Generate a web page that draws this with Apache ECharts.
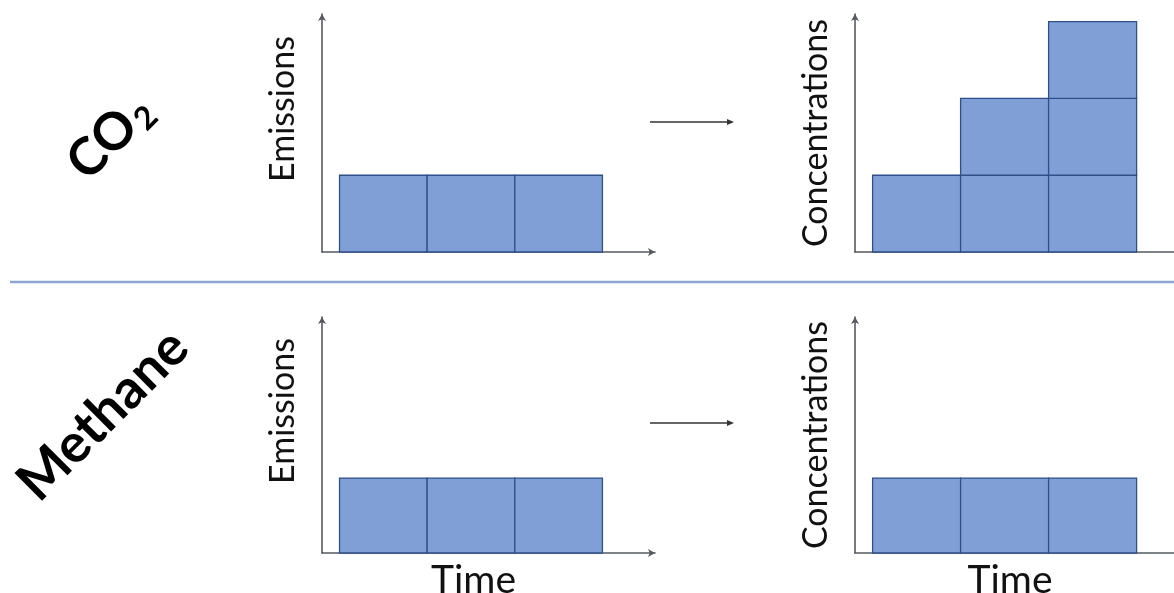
<!DOCTYPE html>
<html>
<head>
<meta charset="utf-8">
<script src="https://cdn.jsdelivr.net/npm/echarts@6/dist/echarts.min.js"></script>
<style>
html,body{margin:0;padding:0;background:#fff;}
#chart{width:1174px;height:593px;}
</style>
</head>
<body>
<div id="chart"></div>
<script>
// Data: each block = [time slot index, stack bottom, stack top]
const timeSlots = ['t1', 't2', 't3'];
const co2Emissions = [1, 1, 1];
const co2Concentrations = [1, 2, 3];
const methaneEmissions = [1, 1, 1];
const methaneConcentrations = [1, 1, 1];
const rowLabels = ['CO', 'Methane'];
const yNames = ['Emissions', 'Concentrations'];
const xName = 'Time';

// Build unit blocks from a series of stacked heights
function blocks(values) {
  const out = [];
  values.forEach((v, i) => {
    for (let k = 0; k < v; k++) out.push([i, k, k + 1]);
  });
  return out;
}

const FONT = 'Lato, "Open Sans", sans-serif';
const AXIS_COLOR = '#55595f';
const BAR_FILL = '#819fd7';
const BAR_BORDER = '#2f4f8a';

const grids = [
  {left: 322, top: 14, width: 333, height: 238},
  {left: 855, top: 14, width: 330, height: 238},
  {left: 322, top: 317, width: 333, height: 236},
  {left: 855, top: 317, width: 330, height: 236}
];
const xMax = [3.6, 3.55, 3.6, 3.55];
const yMax = [3.1, 3.1, 3.15, 3.15];
const seriesData = [co2Emissions, co2Concentrations, methaneEmissions, methaneConcentrations];

const xAxes = grids.map((g, i) => ({
  gridIndex: i, type: 'value', min: -0.2, max: xMax[i],
  axisLine: {show: true, onZero: false, lineStyle: {color: AXIS_COLOR, width: 1.6},
    symbol: ['none', 'arrow'], symbolSize: [6, 7]},
  axisTick: {show: false}, axisLabel: {show: false}, splitLine: {show: false},
  name: i >= 2 ? xName : '', nameLocation: 'middle', nameGap: 8,
  nameTextStyle: {fontFamily: FONT, fontSize: 39, color: '#111',
    verticalAlign: 'top', padding: i === 2 ? [0, 30, 0, 0] : [0, 20, 0, 0]}
}));

const yAxes = grids.map((g, i) => ({
  gridIndex: i, type: 'value', min: 0, max: yMax[i],
  axisLine: {show: true, onZero: false, lineStyle: {color: AXIS_COLOR, width: 1.6},
    symbol: ['none', 'arrow'], symbolSize: [6, 7]},
  axisTick: {show: false}, axisLabel: {show: false}, splitLine: {show: false},
  name: yNames[i % 2], nameLocation: 'middle', nameRotate: 90,
  nameGap: 22,
  nameTextStyle: {fontFamily: FONT, fontSize: 34, color: '#111',
    padding: i % 2 === 0 ? [0, 0, 0, 48] : [0, 0, 0, 0]}
}));

const series = seriesData.map((vals, i) => ({
  type: 'custom', xAxisIndex: i, yAxisIndex: i,
  data: blocks(vals),
  renderItem: function (params, api) {
    const p0 = api.coord([api.value(0), api.value(1)]);
    const p1 = api.coord([api.value(0) + 1, api.value(2)]);
    return {
      type: 'rect',
      shape: {x: p0[0], y: p1[1], width: p1[0] - p0[0], height: p0[1] - p1[1]},
      style: {fill: BAR_FILL, stroke: BAR_BORDER, lineWidth: 1.3}
    };
  },
  clip: false
}));

function arrow(y) {
  return [
    {type: 'line', shape: {x1: 650, y1: y, x2: 730, y2: y},
      style: {stroke: '#333', lineWidth: 1.6}},
    {type: 'polygon', shape: {points: [[734, y], [727, y - 3], [727, y + 3]]},
      style: {fill: '#333'}}
  ];
}

const option = {
  backgroundColor: '#fff',
  animation: false,
  grid: grids.map(g => Object.assign({containLabel: false, outerBoundsMode: 'none'}, g)),
  xAxis: xAxes,
  yAxis: yAxes,
  series: series,
  graphic: [
    {type: 'line', shape: {x1: 10, y1: 282, x2: 1174, y2: 282},
      style: {stroke: '#8ea6cf', lineWidth: 2.5}},
    ...arrow(122),
    ...arrow(423),
    {type: 'text', x: 110, y: 137, rotation: Math.PI / 4,
      style: {text: '{a|' + rowLabels[0] + '}{b|2}', align: 'center', verticalAlign: 'middle',
        rich: {
          a: {fontFamily: FONT, fontWeight: 'bold', fontSize: 52, fill: '#000', color: '#000'},
          b: {fontFamily: FONT, fontWeight: 'bold', fontSize: 32, fill: '#000', color: '#000', padding: [24, 0, 0, 2]}
        }}},
    {type: 'text', x: 103, y: 415, rotation: Math.PI / 4,
      style: {text: rowLabels[1], align: 'center', verticalAlign: 'middle',
        fontFamily: FONT, fontWeight: 'bold', fontSize: 54, fill: '#000'}}
  ]
};

const chart = echarts.init(document.getElementById('chart'), null, {renderer: 'canvas'});
chart.setOption(option);
</script>
</body>
</html>
